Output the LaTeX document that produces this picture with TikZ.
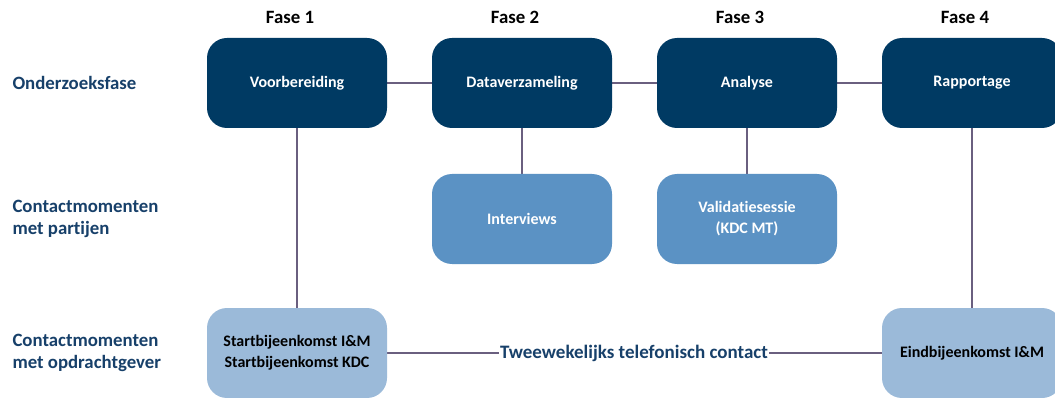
\documentclass[tikz,border=0pt]{standalone}
\usepackage{fontspec}
\setmainfont{Carlito}[Ligatures=NoCommon]
\definecolor{navy}{RGB}{0,58,99}
\definecolor{midblue}{RGB}{91,146,196}
\definecolor{lightblue}{RGB}{155,186,217}
\definecolor{labelblue}{RGB}{23,64,106}
\definecolor{linecol}{RGB}{106,95,127}
\begin{document}
\begin{tikzpicture}[x=1pt,y=-1pt,
  box/.style={rounded corners=20pt, minimum width=180pt, minimum height=90pt, inner sep=0pt, align=center, font=\fontsize{16}{21}\selectfont\bfseries},
  phasebox/.style={box, fill=navy, text=white},
  partybox/.style={box, fill=midblue, text=white},
  clientbox/.style={box, fill=lightblue, text=black},
  conn/.style={draw=linecol, line width=1.4pt},
  rowlabel/.style={anchor=west, align=left, text=labelblue, font=\fontsize{18.8}{22.5}\selectfont\bfseries},
  faselabel/.style={text=black, font=\fontsize{18.8}{22}\selectfont\bfseries}]
\useasboundingbox (0,0) rectangle (1055,398);
\fill[white] (0,0) rectangle (1055,398);
% phase labels
\node[faselabel] (f1) at (290,17) {Fase 1};
\node[faselabel] (f2) at (515,17) {Fase 2};
\node[faselabel] (f3) at (740,17) {Fase 3};
\node[faselabel] (f4) at (965,17) {Fase 4};
% row labels
\node[rowlabel] (r1) at (9,83) {Onderzoeksfase};
\node[rowlabel] (r2) at (9,219) {Contactmomenten\\met partijen};
\node[rowlabel] (r3) at (9,353) {Contactmomenten\\met opdrachtgever};
% connectors (drawn first)
\coordinate (c1) at (297,83);
\coordinate (c2) at (522,83);
\coordinate (c3) at (747,83);
\coordinate (c4) at (972,83);
\coordinate (d2) at (522,219);
\coordinate (d3) at (747,219);
\coordinate (e1) at (297,353);
\coordinate (e4) at (972,353);
\draw[conn] (c1) -- (c4);
\draw[conn] (c1) -- (e1);
\draw[conn] (c2) -- (d2);
\draw[conn] (c3) -- (d3);
\draw[conn] (c4) -- (e4);
\draw[conn] (e1) -- (e4);
% boxes
\node[phasebox] (voor) at (c1) {Voorbereiding};
\node[phasebox] (data) at (c2) {Dataverzameling};
\node[phasebox] (anal) at (c3) {Analyse};
\node[phasebox] (rapp) at (c4) {Rapportage};
\node[partybox] (int) at (d2) {Interviews};
\node[partybox] (val) at (d3) {Validatiesessie\\(KDC MT)};
\node[clientbox] (start) at (e1) {Startbijeenkomst I\&M\\Startbijeenkomst KDC};
\node[clientbox] (eind) at (e4) {Eindbijeenkomst I\&M};
\node[fill=white, inner sep=1pt, text=labelblue, font=\fontsize{19}{22}\selectfont\bfseries] (tw) at (634,353) {Tweewekelijks telefonisch contact};
\end{tikzpicture}
\end{document}
